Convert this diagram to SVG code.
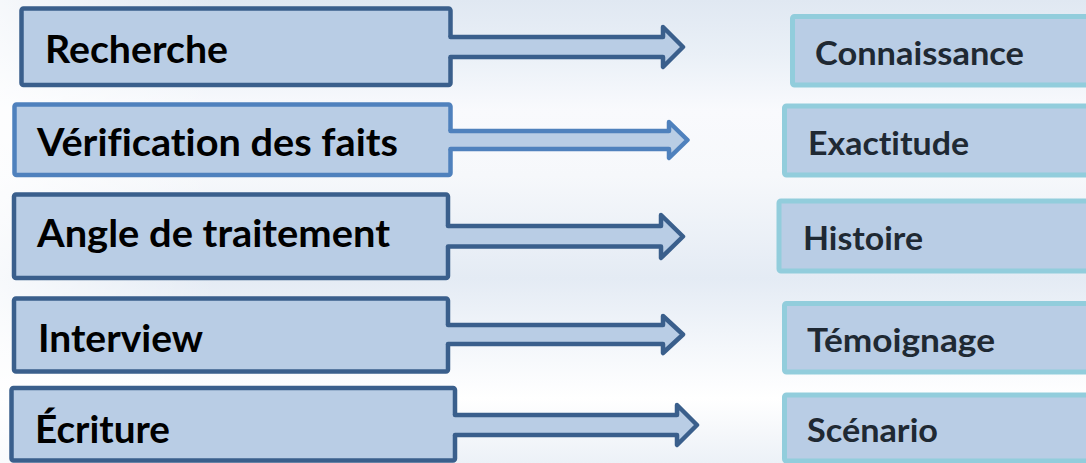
<svg xmlns="http://www.w3.org/2000/svg" width="1086" height="463" viewBox="0 0 1086 463">
<defs>
<linearGradient id="bg" x1="0" y1="0" x2="0" y2="1">
<stop offset="0" stop-color="#E0E8F2"/>
<stop offset="0.12" stop-color="#EAF0F7"/>
<stop offset="0.24" stop-color="#F9FAFD"/>
<stop offset="0.38" stop-color="#F6F8FB"/>
<stop offset="0.6" stop-color="#E4EBF4"/>
<stop offset="0.75" stop-color="#F4F7FB"/>
<stop offset="0.86" stop-color="#FFFFFF"/>
<stop offset="1" stop-color="#ECF1F7"/>
</linearGradient>
<linearGradient id="side" x1="0" y1="0" x2="1" y2="0">
<stop offset="0" stop-color="#FFFFFF" stop-opacity="0.7"/>
<stop offset="0.2" stop-color="#FFFFFF" stop-opacity="0"/>
</linearGradient>
<style>
.lbox{fill:#B9CDE5;stroke:#3A5F8C;stroke-width:4.5;stroke-linejoin:round}
.lbox2{stroke:#4F81BD}
.rbox{fill:#B9CDE5;stroke:#92CDDC;stroke-width:5}
.afill{fill:#B9CDE5;stroke:none}
.aline{fill:none;stroke:#3A5F8C;stroke-width:4.5;stroke-linejoin:round;stroke-linecap:round}
.aline2{stroke:#4F81BD}
.lt{font-family:Lato,"Open Sans","Liberation Sans",sans-serif;font-weight:bold;font-size:38px;fill:#000;font-variant-ligatures:none}
.rt{font-family:Lato,"Open Sans","Liberation Sans",sans-serif;font-weight:bold;font-size:33px;fill:#1F2933;font-variant-ligatures:none}
</style>
</defs>
<rect x="0" y="0" width="1086" height="463" fill="url(#bg)"/>
<rect x="0" y="0" width="1086" height="463" fill="url(#side)"/>

<g id="node-recherche">
<rect class="lbox" x="21.5" y="8.5" width="429" height="76.5" rx="2"/>
<text class="lt" x="45" y="63" textLength="183" lengthAdjust="spacingAndGlyphs">Recherche</text>
</g>
<g id="node-verification">
<rect class="lbox lbox2" x="14.5" y="104.5" width="436" height="70.5" rx="2"/>
<text class="lt" x="37" y="156" textLength="361" lengthAdjust="spacingAndGlyphs">Vérification des faits</text>
</g>
<g id="node-angle">
<rect class="lbox" x="14" y="194.5" width="434" height="83.5" rx="2"/>
<text class="lt" x="37" y="247" textLength="353" lengthAdjust="spacingAndGlyphs">Angle de traitement</text>
</g>
<g id="node-interview">
<rect class="lbox" x="14" y="298.5" width="434" height="73" rx="2"/>
<text class="lt" x="38" y="352" textLength="165" lengthAdjust="spacingAndGlyphs">Interview</text>
</g>
<g id="node-ecriture">
<rect class="lbox" x="11.5" y="388" width="443.5" height="72.5" rx="2"/>
<text class="lt" x="35" y="443" textLength="135" lengthAdjust="spacingAndGlyphs">Écriture</text>
</g>

<g id="node-connaissance">
<rect class="rbox" x="792.5" y="16.5" width="310" height="68.5" rx="2"/>
<text class="rt" x="815" y="65" textLength="209" lengthAdjust="spacingAndGlyphs">Connaissance</text>
</g>
<g id="node-exactitude">
<rect class="rbox" x="784.5" y="106" width="320" height="69" rx="2"/>
<text class="rt" x="808" y="155" textLength="161" lengthAdjust="spacingAndGlyphs">Exactitude</text>
</g>
<g id="node-histoire">
<rect class="rbox" x="779" y="201" width="320" height="70" rx="2"/>
<text class="rt" x="803" y="250" textLength="120" lengthAdjust="spacingAndGlyphs">Histoire</text>
</g>
<g id="node-temoignage">
<rect class="rbox" x="784.5" y="303.5" width="320" height="68.5" rx="2"/>
<text class="rt" x="807" y="352" textLength="188" lengthAdjust="spacingAndGlyphs">Témoignage</text>
</g>
<g id="node-scenario">
<rect class="rbox" x="784.5" y="395" width="320" height="66" rx="2"/>
<text class="rt" x="807" y="442" textLength="131" lengthAdjust="spacingAndGlyphs">Scénario</text>
</g>

<g id="connectors">
<path class="afill" d="M447 37 H663 V27 L683 47 L663 67 V57 H447 Z"/>
<path class="aline" d="M450.5 37 H663 V27 L683 47 L663 67 V57 H450.5"/>

<path class="afill" d="M447 131 H669 V122 L687.5 140 L669 158 V149 H447 Z"/>
<path class="aline aline2" d="M450.5 131 H669 V122 L687.5 140 L669 158 V149 H450.5"/>

<path class="afill" d="M445 226 H661 V215 L683 236.5 L661 258 V246.5 H445 Z"/>
<path class="aline" d="M448 226 H661 V215 L683 236.5 L661 258 V246.5 H448"/>

<path class="afill" d="M445 325 H663 V316 L683 334.5 L663 353 V344 H445 Z"/>
<path class="aline" d="M448 325 H663 V316 L683 334.5 L663 353 V344 H448"/>

<path class="afill" d="M451 415 H677 V405 L697 425 L677 445 V435 H451 Z"/>
<path class="aline" d="M455 415 H677 V405 L697 425 L677 445 V435 H455"/>
</g>
</svg>
